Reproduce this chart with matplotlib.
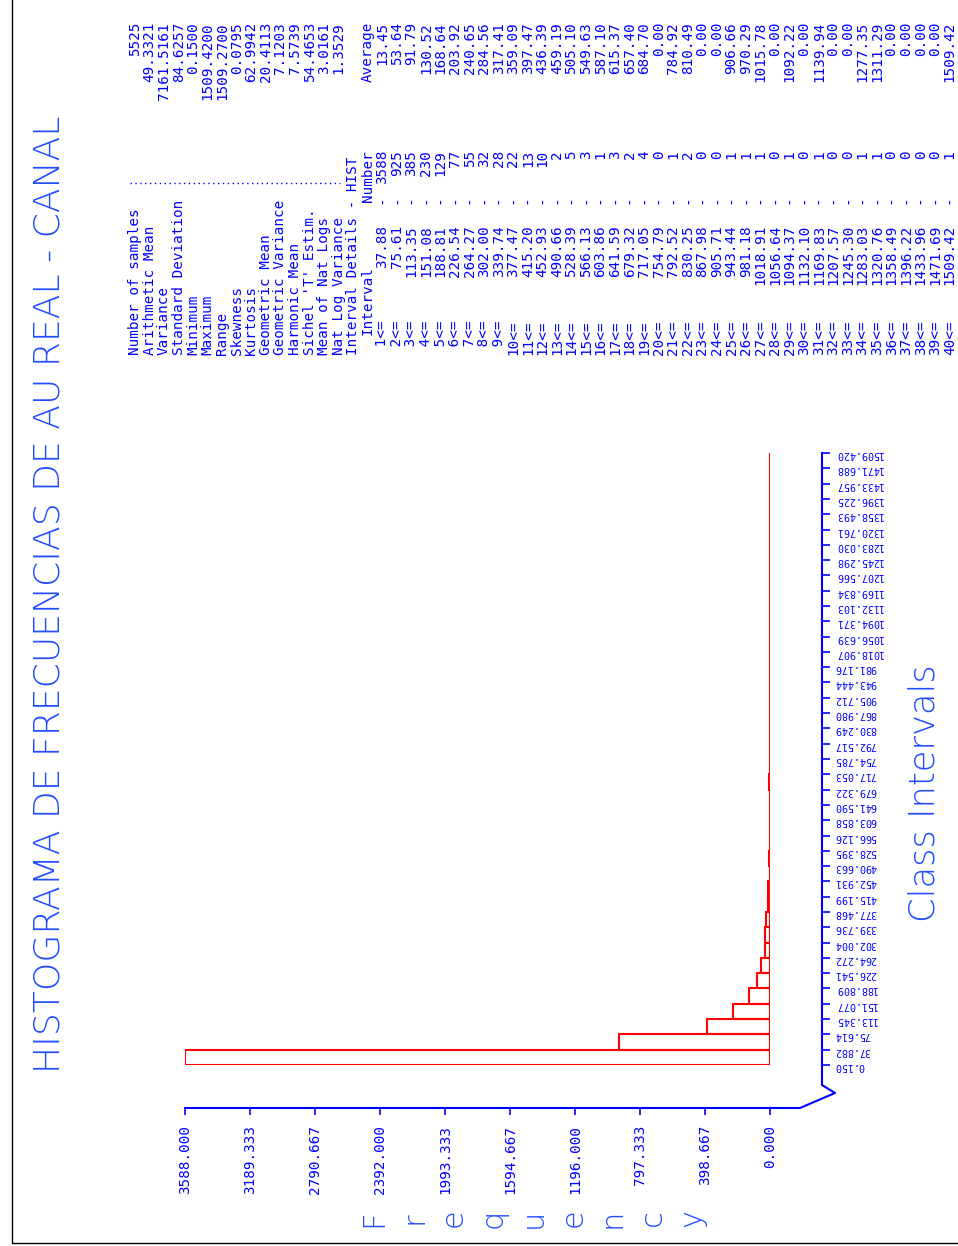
import numpy as np
import matplotlib
matplotlib.use('Agg')
import matplotlib.pyplot as plt

titulo = 'HISTOGRAMA DE FRECUENCIAS DE AU REAL - CANAL'

# estadisticas de la muestra
stat_nombres = ['Number of samples', 'Arithmetic Mean', 'Variance', 'Standard Deviation', 'Minimum',
                'Maximum', 'Range', 'Skewness', 'Kurtosis', 'Geometric Mean', 'Geometric Variance',
                'Harmonic Mean', "Sichel 'T' Estim.", 'Mean of Nat Logs', 'Nat Log Variance']
stat_valores = ['5525', '49.3321', '7161.5161', '84.6257', '0.1500', '1509.4200', '1509.2700', '0.0795',
                '62.9942', '20.4113', '7.1203', '7.5739', '54.4653', '3.0161', '1.3529']

# limites de clase (41 bordes, 40 intervalos)
bordes = [0.150, 37.882, 75.614, 113.345, 151.077, 188.809, 226.541, 264.272, 302.004, 339.736,
          377.468, 415.199, 452.931, 490.663, 528.395, 566.126, 603.858, 641.590, 679.322, 717.053,
          754.785, 792.517, 830.249, 867.980, 905.712, 943.444, 981.176, 1018.907, 1056.639, 1094.371,
          1132.103, 1169.834, 1207.566, 1245.298, 1283.030, 1320.761, 1358.493, 1396.225, 1433.957,
          1471.688, 1509.420]
limite_sup = [37.88, 75.61, 113.35, 151.08, 188.81, 226.54, 264.27, 302.00, 339.74, 377.47,
              415.20, 452.93, 490.66, 528.39, 566.13, 603.86, 641.59, 679.32, 717.05, 754.79,
              792.52, 830.25, 867.98, 905.71, 943.44, 981.18, 1018.91, 1056.64, 1094.37, 1132.10,
              1169.83, 1207.57, 1245.30, 1283.03, 1320.76, 1358.49, 1396.22, 1433.96, 1471.69, 1509.42]
frecuencias = [3588, 925, 385, 230, 129, 77, 55, 32, 28, 22, 13, 10, 2, 5, 3, 1, 3, 2, 4, 0,
               1, 2, 0, 0, 1, 1, 1, 0, 1, 0, 1, 0, 0, 1, 1, 0, 0, 0, 0, 1]
promedios = [13.45, 53.64, 91.79, 130.52, 168.64, 203.92, 240.65, 284.56, 317.41, 359.09,
             397.47, 436.39, 459.19, 505.10, 549.63, 587.10, 615.37, 657.40, 684.70, 0.00,
             784.92, 810.49, 0.00, 0.00, 906.66, 970.29, 1015.78, 0.00, 1092.22, 0.00,
             1139.94, 0.00, 0.00, 1277.35, 1311.29, 0.00, 0.00, 0.00, 0.00, 1509.42]
frec_ticks = [0.0, 398.667, 797.333, 1196.0, 1594.667, 1993.333, 2392.0, 2790.667, 3189.333, 3588.0]

azul = '#0000ff'
azul_t = '#1f4cff'
rojo = '#ff0000'
mono = 'DejaVu Sans Mono'
fs_tabla = 10.3

W, H = 958, 1246
fig = plt.figure(figsize=(W / 100, H / 100), dpi=100)

# capa en pixeles para textos y marco
capa = fig.add_axes([0, 0, 1, 1])
capa.set_xlim(0, W)
capa.set_ylim(H, 0)
capa.axis('off')

capa.plot([12, 12, W], [0, 1243, 1243], color='black', lw=1)  # marco

capa.text(50, 594, titulo, rotation=90, ha='center', va='center', fontsize=26,
          color=azul_t, family='DejaVu Sans', fontweight='light')

paso = 14.55  # distancia entre lineas de la tabla
x0 = 135
for k, (nom, val) in enumerate(zip(stat_nombres, stat_valores)):
    x = x0 + k * paso
    capa.text(x, 355, nom, rotation=90, ha='center', va='bottom', fontsize=fs_tabla, color=azul, family=mono)
    capa.text(x, 22, val, rotation=90, ha='center', va='top', fontsize=fs_tabla, color=azul, family=mono)
capa.plot([130, 340], [183, 183], color=azul, lw=1, ls=(0, (1, 2.5)))

x = x0 + 15 * paso
capa.text(x, 355, 'Interval Details - HIST', rotation=90, ha='center', va='bottom', fontsize=fs_tabla, color=azul, family=mono)
x = x0 + 16 * paso
capa.text(x, 335, 'Interval', rotation=90, ha='center', va='bottom', fontsize=fs_tabla, color=azul, family=mono)
capa.text(x, 150, 'Number', rotation=90, ha='center', va='top', fontsize=fs_tabla, color=azul, family=mono)
capa.text(x, 22, 'Average', rotation=90, ha='center', va='top', fontsize=fs_tabla, color=azul, family=mono)

for i in range(len(frecuencias)):
    x = x0 + (17 + i) * paso
    capa.text(x, 355, '{0:2d}<='.format(i + 1), rotation=90, ha='center', va='bottom', fontsize=fs_tabla, color=azul, family=mono)
    capa.text(x, 225, '{0:.2f}'.format(limite_sup[i]), rotation=90, ha='center', va='top', fontsize=fs_tabla, color=azul, family=mono)
    capa.text(x, 200, '-', rotation=90, ha='center', va='center', fontsize=fs_tabla, color=azul, family=mono)
    capa.text(x, 150, str(frecuencias[i]), rotation=90, ha='center', va='top', fontsize=fs_tabla, color=azul, family=mono)
    capa.text(x, 22, '{0:.2f}'.format(promedios[i]), rotation=90, ha='center', va='top', fontsize=fs_tabla, color=azul, family=mono)

# etiqueta Frequency, letra por letra
for letra, xl in zip('Frequency', np.linspace(374, 692, 9)):
    capa.text(xl, 1218, letra, rotation=90, ha='center', va='center', fontsize=22,
              color=azul_t, family='DejaVu Sans', fontweight='light')

capa.text(925, 793, 'Class Intervals', rotation=90, ha='center', va='center', fontsize=25.5,
          color=azul_t, family='DejaVu Sans', fontweight='light')

# prolongacion de los ejes y corte
capa.plot([770, 800, 835, 822, 822], [1108, 1108, 1093, 1085, 1065], color=azul, lw=1.5)

# histograma (girado)
izq, der, arr, aba = 185, 770, 453, 1065
ax = fig.add_axes([izq / W, 1 - aba / H, (der - izq) / W, (aba - arr) / H])
ax.patch.set_visible(False)
ax.barh(bordes[:-1], frecuencias, height=np.diff(bordes), align='edge', left=0,
        fill=False, edgecolor=rojo, linewidth=1.5)
ax.set_xlim(3588, 0)
ax.set_ylim(bordes[0], bordes[-1])

ax.spines['top'].set_visible(False)
ax.spines['left'].set_visible(False)
ax.spines['bottom'].set_position(('axes', -43 / (aba - arr)))
ax.spines['right'].set_position(('axes', 1 + 52 / (der - izq)))
for s in ['bottom', 'right']:
    ax.spines[s].set_color(azul)
    ax.spines[s].set_linewidth(1.5)

ax.yaxis.tick_right()
ax.set_yticks(bordes)
ax.set_yticklabels(['{0:.3f}'.format(b) for b in bordes], rotation=180, fontsize=7.2, family=mono, color=azul)
ax.set_xticks(frec_ticks)
ax.set_xticklabels(['{0:.3f}'.format(f) for f in frec_ticks], rotation=90, fontsize=10.3, family=mono, color=azul)
ax.tick_params(axis='y', direction='out', length=6, width=1.2, color=azul, pad=3)
ax.tick_params(axis='x', direction='out', length=5, width=1.2, color=azul, pad=7)

fig.savefig('out.png', dpi=100)
